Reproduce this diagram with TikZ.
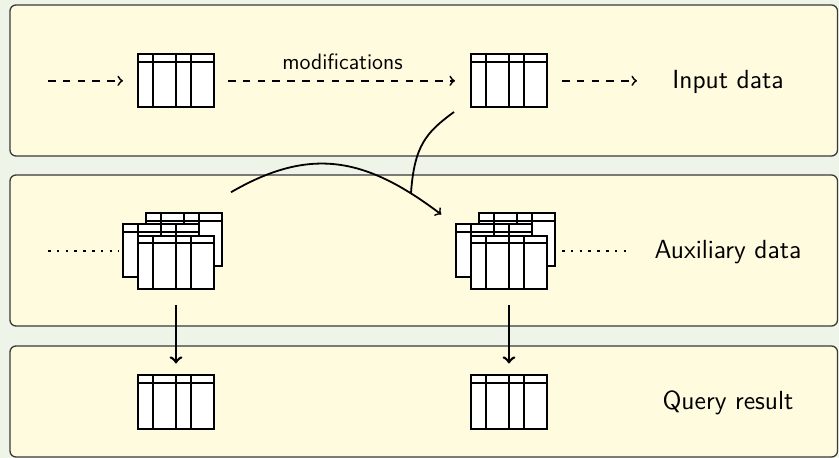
\documentclass[tikz,border=0pt]{standalone}
\usepackage{fontspec}
\usetikzlibrary{calc}

\definecolor{pagebg}{HTML}{EFF4E9}
\definecolor{panelfill}{HTML}{FFFBDF}
\definecolor{panelline}{HTML}{3A3A3A}

\tikzset{
  panel/.style={draw=panelline, line width=0.65pt, fill=panelfill, rounded corners=3pt},
  datatable/.style={draw, fill=white, line width=1pt,
    minimum width=38pt, minimum height=26.5pt, inner sep=0pt, outer sep=0pt,
    path picture={
      \draw[line width=1pt]
        ([yshift=-3.7pt]path picture bounding box.north west) --
        ([yshift=-3.7pt]path picture bounding box.north east);
      \foreach \f in {0.2,0.5,0.7}
        \draw[line width=1pt]
          ($(path picture bounding box.north west)!\f!(path picture bounding box.north east)$) --
          ($(path picture bounding box.south west)!\f!(path picture bounding box.south east)$);
    }},
  layerlabel/.style={font=\sffamily\fontsize{13.1}{15.7}\selectfont, anchor=base, inner sep=0pt},
  flowdash/.style={line width=0.9pt, dash pattern=on 3.8pt off 3.6pt, ->},
  flowdots/.style={line width=1.4pt, dash pattern=on 1.3pt off 3.1pt},
  derive/.style={line width=1.3pt, ->},
  update/.style={line width=0.9pt},
}

\begin{document}
\begin{tikzpicture}[x=0.5pt, y=-0.5pt]
  % canvas
  \fill[pagebg] (0,0) rectangle (839,458);
  \useasboundingbox (0,0) rectangle (839,458);

  % layers
  \draw[panel] (10,5)   rectangle (837.5,156);
  \draw[panel] (10,175) rectangle (837.5,326);
  \draw[panel] (10,346) rectangle (837.5,457);

  % input data layer
  \node[datatable] (inA) at (176,80.8) {};
  \node[datatable] (inB) at (509,80.8) {};
  \coordinate (inL)  at (48,80.8);
  \coordinate (outR) at (637,80.8);
  \draw[flowdash, shorten >=7.5pt] (inL) -- (inA);
  \draw[flowdash, shorten <=7pt, shorten >=8pt] (inA) --
    node[midway, above=5pt, inner sep=0pt, font=\sffamily\fontsize{11.15}{13.4}\selectfont] (modlbl) {modifications} (inB);
  \draw[flowdash, shorten <=7.5pt] (inB) -- (outR);
  \node[layerlabel] (inputlbl) at (728,88.3) {Input data};

  % auxiliary data layer: stacks of tables
  \node[datatable] (auxAback) at (184,239.75) {};
  \node[datatable] (auxAmid)  at (161,251) {};
  \node[datatable] (auxA)     at (176,262.5) {};
  \node[datatable] (auxBback) at (517,239.75) {};
  \node[datatable] (auxBmid)  at (494,251) {};
  \node[datatable] (auxB)     at (509,262.5) {};
  \coordinate (dotL) at (48,251);
  \coordinate (dotR) at (632,251);
  \draw[flowdots, shorten >=2pt] (dotL) -- (auxAmid);
  \draw[flowdots, shorten <=3.5pt] (auxBback.east |- dotR) -- (dotR);
  \node[layerlabel] (auxlbl) at (728,258.3) {Auxiliary data};

  % maintenance step from old to new auxiliary data
  \draw[update, ->] ([shift={(9,-21)}]auxAback.north east)
    .. controls (311.5,145.5) and (366.6,158.2) ..
    ([shift={(-14.7,-10)}]auxBmid.north west) coordinate[pos=0.86] (join);
  \draw[update] ([shift={(-17,4.7)}]inB.south west)
    .. controls (425.6,132.7) and (414.3,146) .. (join);

  % query result layer
  \node[datatable] (resA) at (176,402) {};
  \node[datatable] (resB) at (509,402) {};
  \draw[derive, shorten <=8pt, shorten >=6pt] (auxA) -- (resA);
  \draw[derive, shorten <=8pt, shorten >=6pt] (auxB) -- (resB);
  \node[layerlabel] (querylbl) at (728,409.3) {Query result};
\end{tikzpicture}
\end{document}
